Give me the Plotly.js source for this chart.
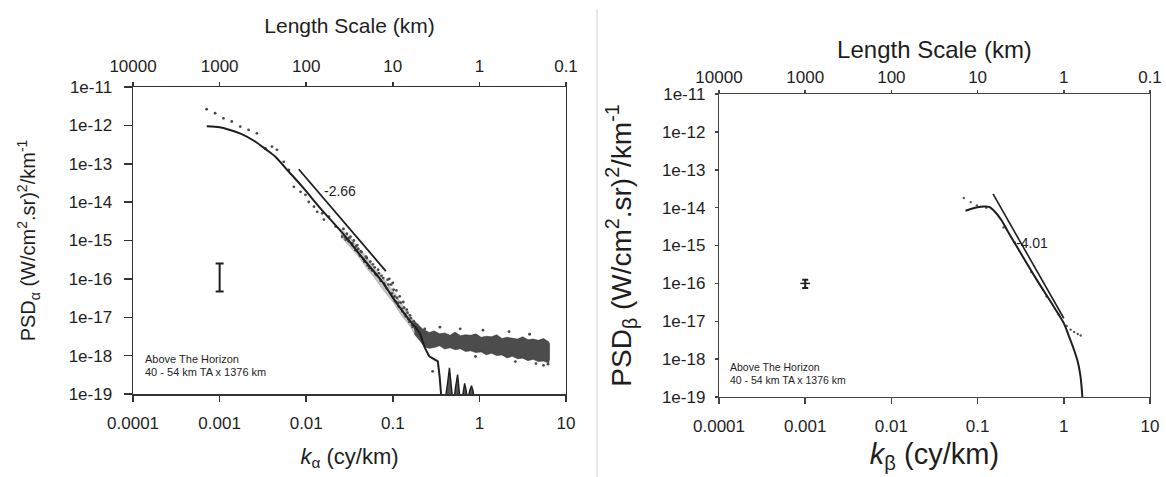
<!DOCTYPE html>
<html>
<head>
<meta charset="utf-8">
<script src="https://cdn.plot.ly/plotly-3.0.1.min.js"></script>
<style>html,body{margin:0;padding:0;background:#fff;}#chart{width:1166px;height:477px;}</style>
</head>
<body>
<div id="chart"></div>
<script>
// ---------- tick labels ----------
const kTickVals = [0.0001, 0.001, 0.01, 0.1, 1, 10];
const kTickText = ["0.0001", "0.001", "0.01", "0.1", "1", "10"];
const lenTickVals = [10000, 1000, 100, 10, 1, 0.1];
const lenTickText = ["10000", "1000", "100", "10", "1", "0.1"];
const psdTickVals = [1e-11, 1e-12, 1e-13, 1e-14, 1e-15, 1e-16, 1e-17, 1e-18, 1e-19];
const psdTickText = ["1e-11", "1e-12", "1e-13", "1e-14", "1e-15", "1e-16", "1e-17", "1e-18", "1e-19"];

// ---------- left panel (alpha) ----------
// smooth model curve
const alphaModelK = [7.1e-4, 1.0e-3, 1.26e-3, 1.8e-3, 2.57e-3, 3.4e-3, 4.37e-3, 6.3e-3, 8.9e-3, 0.0151, 0.0263, 0.0447, 0.0759, 0.108, 0.155, 0.204, 0.231, 0.264];
const alphaModelP = [9.5e-13, 8.9e-13, 7.8e-13, 5.9e-13, 3.8e-13, 2.4e-13, 1.55e-13, 6.2e-14, 2.6e-14, 6.3e-15, 1.55e-15, 3.5e-16, 8.3e-17, 2.5e-17, 8.5e-18, 3.9e-18, 1.74e-18, 9.5e-19];
// stepped drop of the model
const alphaStepK = [0.264, 0.331, 0.347, 0.363, 0.37];
const alphaStepP = [9.5e-19, 7.1e-19, 2.9e-19, 1.05e-19, 5e-20];
// oscillating tail near the floor
const alphaTailK = [0.37, 0.394, 0.43, 0.451, 0.475, 0.50, 0.53, 0.56, 0.585, 0.61, 0.645, 0.675, 0.705, 0.736, 0.77, 0.81, 0.845, 0.88];
const alphaTailP = [5e-20, 5e-20, 2e-19, 4.8e-19, 1.5e-19, 5e-20, 1.5e-19, 3.2e-19, 1.2e-19, 5e-20, 1e-19, 1.9e-19, 1.2e-19, 6e-20, 1.2e-19, 1.65e-19, 1.2e-19, 5e-20];

// measured spectrum: sparse points + points along the steep part
const alphaDotK = [7.08e-4, 8.87e-4, 1.107e-3, 1.38e-3, 1.73e-3, 2.16e-3, 2.69e-3, 3.37e-3, 4.02e-3, 4.59e-3, 5.5e-3, 6.3e-3, 7.2e-3, 8.6e-3, 9.8e-3, 0.0107, 0.0123, 0.0134, 0.0153, 0.016, 0.0183, 0.0219, 0.026, 0.0286, 0.0312, 0.034, 0.0373,
  0.0398, 0.0417, 0.0437, 0.0468, 0.049, 0.0513, 0.055, 0.0575, 0.0617, 0.0646, 0.0692, 0.0724, 0.0776, 0.0813, 0.0871, 0.0912, 0.0955, 0.1, 0.105, 0.11, 0.115, 0.12, 0.126, 0.132, 0.138, 0.145, 0.151, 0.158, 0.166, 0.174, 0.182, 0.191, 0.2, 0.209, 0.219, 0.229,
  0.0269, 0.0282, 0.0295, 0.0309, 0.0324, 0.0339, 0.0355, 0.0372, 0.0389, 0.0427, 0.0457, 0.0501, 0.0537, 0.0589, 0.0631, 0.0676, 0.0741, 0.0794, 0.0851, 0.0891, 0.0977, 0.102, 0.107, 0.112, 0.117, 0.123, 0.129, 0.135, 0.141, 0.148, 0.155, 0.162, 0.17, 0.178, 0.186, 0.195, 0.214, 0.234,
  0.288, 0.35, 0.6, 1.1, 2.2, 3.8, 5.5, 6.2, 4.5, 0.9, 2.6];
const alphaDotP = [2.63e-12, 2.07e-12, 1.53e-12, 1.26e-12, 9.3e-13, 7.6e-13, 6.2e-13, 2.5e-13, 2.8e-13, 2.3e-13, 1.12e-13, 6.9e-14, 2.5e-14, 1.86e-14, 1.55e-14, 1.02e-14, 7.6e-15, 5.6e-15, 5.1e-15, 3.5e-15, 4.2e-15, 2.3e-15, 1.26e-15, 1.05e-15, 1.15e-15, 8.5e-16, 6.9e-16,
  6.0e-16, 4.0e-16, 5.0e-16, 2.8e-16, 3.8e-16, 2.24e-16, 2.8e-16, 1.66e-16, 2.0e-16, 1.26e-16, 1.41e-16, 8.9e-17, 1.05e-16, 6.6e-17, 9.5e-17, 1.0e-16, 7.1e-17, 7.9e-17, 3.5e-17, 5.0e-17, 2.4e-17, 3.5e-17, 1.66e-17, 2.5e-17, 1.2e-17, 1.58e-17, 8.9e-18, 1.12e-17, 6.3e-18, 7.9e-18, 5.0e-18, 6.3e-18, 4.0e-18, 5.0e-18, 3.5e-18, 4.5e-18,
  2.0e-15, 1.2e-15, 1.5e-15, 9.5e-16, 1.26e-15, 7.6e-16, 1.0e-15, 5.6e-16, 7.6e-16, 5.2e-16, 3.3e-16, 3.5e-16, 1.9e-16, 2.4e-16, 1.32e-16, 1.74e-16, 1.2e-16, 7.6e-17, 5.6e-17, 7.1e-17, 4.2e-17, 5.2e-17, 2.6e-17, 3.2e-17, 1.9e-17, 2.4e-17, 1.41e-17, 1.78e-17, 1.05e-17, 1.32e-17, 7.6e-18, 9.5e-18, 5.6e-18, 7.1e-18, 4.5e-18, 5.6e-18, 4.2e-18, 5.0e-18,
  3.9e-19, 5.5e-18, 5.0e-18, 4.6e-18, 4.2e-18, 3.6e-18, 5.6e-19, 6.0e-19, 6.2e-19, 9.5e-19, 7.0e-19];

// light envelope of the scatter along the steep part
const alphaSlopeK = [0.0251, 0.0316, 0.0398, 0.0501, 0.0631, 0.0794, 0.1, 0.126, 0.158, 0.178];
const alphaSlopeHigh = [2.0e-15, 1.25e-15, 6.8e-16, 3.6e-16, 1.75e-16, 1.0e-16, 5.0e-17, 2.3e-17, 1.1e-17, 7.9e-18];
const alphaSlopeLow = [1.25e-15, 6.8e-16, 3.9e-16, 1.85e-16, 9.8e-17, 4.7e-17, 2.5e-17, 1.1e-17, 5.8e-18, 3.55e-18];

// dense noise floor envelope
const alphaFloorK = [0.178, 0.2, 0.219, 0.24, 0.263, 0.302, 0.347, 0.398, 0.457, 0.525, 0.603, 0.692, 0.794, 0.912, 1.047, 1.202, 1.38, 1.585, 1.82, 2.089, 2.399, 2.754, 3.162, 3.631, 4.169, 4.786, 5.495, 6.31, 6.46];
const alphaFloorHigh = [7.9e-18, 6.0e-18, 5.0e-18, 4.5e-18, 4.0e-18, 4.4e-18, 3.7e-18, 3.9e-18, 3.4e-18, 4.1e-18, 3.3e-18, 3.5e-18, 3.4e-18, 3.7e-18, 3.0e-18, 3.2e-18, 3.1e-18, 3.5e-18, 2.8e-18, 3.0e-18, 2.9e-18, 2.7e-18, 3.1e-18, 2.6e-18, 2.7e-18, 2.5e-18, 2.8e-18, 2.3e-18, 2.0e-18];
const alphaFloorLow = [3.55e-18, 2.63e-18, 2.0e-18, 1.66e-18, 1.55e-18, 1.62e-18, 1.8e-18, 1.48e-18, 1.6e-18, 1.42e-18, 1.5e-18, 1.28e-18, 1.33e-18, 1.2e-18, 1.25e-18, 1.05e-18, 1.15e-18, 1.0e-18, 1.04e-18, 8.7e-19, 9.6e-19, 8.3e-19, 8.6e-19, 7.4e-19, 8.0e-19, 7.0e-19, 7.2e-19, 6.4e-19, 8.0e-19];

const alphaFitK = [0.0082, 0.083];
const alphaFitP = [7.2e-14, 1.6e-16];
const alphaErrK = [0.001], alphaErrP = [1.1e-16], alphaErrHigh = [2.5e-16], alphaErrLow = [4.7e-17];

// ---------- right panel (beta) ----------
const betaModelK = [0.0724, 0.0851, 0.1, 0.1175, 0.136, 0.158, 0.191, 0.221, 0.316, 0.49, 0.759, 1.0, 1.148, 1.288, 1.445, 1.549, 1.603, 1.641, 1.66];
const betaModelP = [8.3e-15, 9.3e-15, 1.02e-14, 1.07e-14, 1.05e-14, 7.9e-15, 4.5e-15, 2.5e-15, 6.3e-16, 1.2e-16, 2.5e-17, 8.9e-18, 4.0e-18, 2.0e-18, 8.9e-19, 4.0e-19, 2.0e-19, 1.0e-19, 5e-20];
const betaDotK = [0.0692, 0.0832, 0.098, 0.126, 0.2, 0.27, 0.42, 0.63, 0.87, 1.08, 1.2, 1.32, 1.45, 1.57];
const betaDotP = [1.8e-14, 1.4e-14, 1.15e-14, 1.0e-14, 3.0e-15, 1.2e-15, 2.0e-16, 4.5e-17, 1.5e-17, 7.5e-18, 6e-18, 5.2e-18, 4.6e-18, 4.2e-18];
const betaFitK = [0.151, 1.0];
const betaFitP = [2.3e-14, 1.2e-17];
const betaErrK = [0.001], betaErrP = [1.0e-16], betaErrHigh = [1.25e-16], betaErrLow = [7.6e-17];

// ---------- styles ----------
const FONT = "Liberation Sans, Arial, Helvetica, sans-serif";
const INK = "#1e1e1e";
const AX = "#333";
const AX2 = "#444";

function band(k, hi, lo, xa, ya, color) {
  return {
    x: k.concat(k.slice().reverse()),
    y: hi.concat(lo.slice().reverse()),
    xaxis: xa, yaxis: ya, mode: "lines", fill: "toself",
    fillcolor: color, line: {color: color, width: 0.6},
    hoverinfo: "skip"
  };
}
function errTrace(k, p, hi, lo, xa, ya, w, sym) {
  return {
    x: k, y: p, xaxis: xa, yaxis: ya, mode: "markers",
    marker: sym ? {symbol: sym, size: 7, line: {color: INK, width: 1.5}, color: INK} : {size: 1, color: "rgba(0,0,0,0)"},
    error_y: {type: "data", symmetric: false,
      array: hi.map((h, i) => h - p[i]), arrayminus: lo.map((l, i) => p[i] - l),
      color: INK, thickness: 2, width: w},
    hoverinfo: "skip"
  };
}

const traces = [
  band(alphaSlopeK, alphaSlopeHigh, alphaSlopeLow, "x", "y", "rgba(90,90,90,0.35)"),
  band(alphaFloorK, alphaFloorHigh, alphaFloorLow, "x", "y", "rgba(45,45,45,0.85)"),
  {x: alphaDotK, y: alphaDotP, xaxis: "x", yaxis: "y", mode: "markers", marker: {size: 2.8, color: "#4a4a4a"}, hoverinfo: "skip"},
  {x: alphaModelK, y: alphaModelP, xaxis: "x", yaxis: "y", mode: "lines", line: {color: INK, width: 2, shape: "spline", smoothing: 0.8}, hoverinfo: "skip"},
  {x: alphaStepK, y: alphaStepP, xaxis: "x", yaxis: "y", mode: "lines", line: {color: INK, width: 2}, hoverinfo: "skip"},
  {x: alphaTailK, y: alphaTailP, xaxis: "x", yaxis: "y", mode: "lines", fill: "toself", fillcolor: "rgba(40,40,40,0.8)", line: {color: INK, width: 1.4}, hoverinfo: "skip"},
  {x: alphaFitK, y: alphaFitP, xaxis: "x", yaxis: "y", mode: "lines", line: {color: INK, width: 1.8}, hoverinfo: "skip"},
  errTrace(alphaErrK, alphaErrP, alphaErrHigh, alphaErrLow, "x", "y", 4, null),
  {x: [10000, 0.1], y: [1e-11, 1e-11], xaxis: "x3", yaxis: "y", mode: "markers", marker: {opacity: 0}, hoverinfo: "skip"},

  {x: betaDotK, y: betaDotP, xaxis: "x2", yaxis: "y2", mode: "markers", marker: {size: 2.4, color: "#555"}, hoverinfo: "skip"},
  {x: betaModelK, y: betaModelP, xaxis: "x2", yaxis: "y2", mode: "lines", line: {color: INK, width: 2, shape: "spline", smoothing: 0.7}, hoverinfo: "skip"},
  {x: betaFitK, y: betaFitP, xaxis: "x2", yaxis: "y2", mode: "lines", line: {color: INK, width: 1.6}, hoverinfo: "skip"},
  errTrace(betaErrK, betaErrP, betaErrHigh, betaErrLow, "x2", "y2", 3, "line-ew"),
  {x: [10000, 0.1], y: [1e-11, 1e-11], xaxis: "x4", yaxis: "y2", mode: "markers", marker: {opacity: 0}, hoverinfo: "skip"}
];

function kAxis(domain, anchor, titleText, titleSize, standoff, lc, lw) {
  return {
    type: "log", range: [-4, 1], domain: domain, anchor: anchor,
    tickvals: kTickVals, ticktext: kTickText, tickfont: {size: 17, family: FONT, color: INK},
    ticks: "outside", ticklen: 6, tickwidth: 1.5, tickcolor: lc, ticklabelstandoff: 7,
    showline: true, linecolor: lc, linewidth: lw, showgrid: false, zeroline: false,
    title: {text: titleText, font: {size: titleSize, family: FONT, color: INK}, standoff: standoff}
  };
}
function lenAxis(over, anchor, titleSize, standoff, ticklen, labelStandoff, lc, lw) {
  return {
    type: "log", range: [4, -1], overlaying: over, side: "top", anchor: anchor,
    tickvals: lenTickVals, ticktext: lenTickText, tickfont: {size: 17, family: FONT, color: INK},
    ticks: "outside", ticklen: ticklen, tickwidth: 1.5, tickcolor: lc, ticklabelstandoff: labelStandoff,
    showline: true, linecolor: lc, linewidth: lw, showgrid: false, zeroline: false,
    title: {text: "Length Scale (km)", font: {size: titleSize, family: FONT, color: INK}, standoff: standoff}
  };
}
function psdAxis(domain, anchor, titleText, titleSize, standoff, ticklen, labelStandoff, lc, lw) {
  return {
    type: "log", range: [-19, -11], domain: domain, anchor: anchor,
    tickvals: psdTickVals, ticktext: psdTickText, tickfont: {size: 17, family: FONT, color: INK},
    ticks: "outside", ticklen: ticklen, tickwidth: 1.5, tickcolor: lc, ticklabelstandoff: labelStandoff,
    showline: true, mirror: true, linecolor: lc, linewidth: lw, showgrid: false, zeroline: false,
    title: {text: titleText, font: {size: titleSize, family: FONT, color: INK}, standoff: standoff}
  };
}

const layout = {
  width: 1166, height: 477,
  margin: {l: 0, r: 0, t: 0, b: 0},
  paper_bgcolor: "#fff", plot_bgcolor: "#fff",
  showlegend: false,
  font: {family: FONT, color: INK, size: 17},
  xaxis: kAxis([0.1141, 0.48542], "y", "<i>k</i><sub>α</sub> (cy/km)", 22, 16, AX, 1.5),
  xaxis3: lenAxis("x", "y", 21, 17, 4, 3, AX, 1.5),
  yaxis: psdAxis([0.174, 0.8176], "x", "PSD<sub>α</sub> (W/cm<sup>2</sup>.sr)<sup>2</sup>/km<sup>-1</sup>", 20, 27, 8, 8, AX, 1.5),
  xaxis2: kAxis([0.61664, 0.98628], "y2", "<i>k</i><sub>β</sub> (cy/km)", 29, 9, AX2, 1.2),
  xaxis4: lenAxis("x2", "y2", 24, 2, 3, 0, AX2, 1.2),
  yaxis2: psdAxis([0.1677, 0.8029], "x2", "PSD<sub>β</sub> (W/cm<sup>2</sup>.sr)<sup>2</sup>/km<sup>-1</sup>", 28, 22, 3, 6, AX2, 1.2),
  annotations: [
    {xref: "x domain", yref: "y domain", x: 0.478, y: 0.695, text: "-2.66", showarrow: false, font: {size: 14, family: FONT, color: INK}},
    {xref: "x domain", yref: "y domain", x: 0.023, y: 0.088, xanchor: "left", text: "Above The Horizon", showarrow: false, font: {size: 11, family: FONT, color: INK}},
    {xref: "x domain", yref: "y domain", x: 0.023, y: 0.045, xanchor: "left", text: "40 - 54 km TA x 1376 km", showarrow: false, font: {size: 11, family: FONT, color: INK}},
    {xref: "x2 domain", yref: "y2 domain", x: 0.768, y: 0.508, text: "-4.01", showarrow: false, font: {size: 14, family: FONT, color: INK}},
    {xref: "x2 domain", yref: "y2 domain", x: 0.02, y: 0.074, xanchor: "left", text: "Above The Horizon", showarrow: false, font: {size: 10.5, family: FONT, color: INK}},
    {xref: "x2 domain", yref: "y2 domain", x: 0.02, y: 0.029, xanchor: "left", text: "40 - 54 km TA x 1376 km", showarrow: false, font: {size: 10.5, family: FONT, color: INK}}
  ],
  shapes: [
    {type: "line", xref: "paper", yref: "paper", x0: 0.512, x1: 0.512, y0: 0, y1: 0.98, line: {color: "#e2e2e2", width: 1.5}}
  ]
};

Plotly.newPlot("chart", traces, layout, {staticPlot: true, displayModeBar: false});
</script>
</body>
</html>
